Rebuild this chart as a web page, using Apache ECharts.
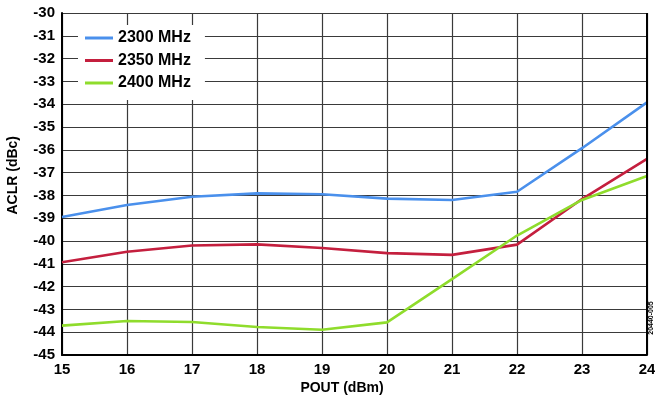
<!DOCTYPE html>
<html>
<head>
<meta charset="utf-8">
<script src="https://cdn.jsdelivr.net/npm/echarts@6/dist/echarts.min.js"></script>
<style>
  html, body { margin: 0; padding: 0; background: #fff; }
  #chart { width: 655px; height: 400px; }
</style>
</head>
<body>
<div id="chart"></div>
<script>
// Output power steps (dBm)
const pout = [15, 16, 17, 18, 19, 20, 21, 22, 23, 24];

// ACLR (dBc) per carrier frequency
const aclr2300 = [-38.95, -38.42, -38.06, -37.91, -37.95, -38.14, -38.2, -37.84, -35.93, -33.92];
const aclr2350 = [-40.93, -40.47, -40.2, -40.15, -40.31, -40.53, -40.61, -40.16, -38.16, -36.4];
const aclr2400 = [-43.71, -43.51, -43.55, -43.77, -43.89, -43.57, -41.67, -39.76, -38.2, -37.15];

const seriesNames = ['2300 MHz', '2350 MHz', '2400 MHz'];
const seriesColors = ['#4a90ec', '#c41f3e', '#8fdc2c'];
const seriesData = [aclr2300, aclr2350, aclr2400];

const FONT = '"Liberation Sans", Arial, sans-serif';

const chart = echarts.init(document.getElementById('chart'), null, { renderer: 'canvas' });

chart.setOption({
  animation: false,
  backgroundColor: '#fff',
  grid: { left: 62, right: 8, top: 13, bottom: 45, show: false, outerBoundsMode: 'none' },
  xAxis: {
    type: 'value',
    min: 15, max: 24, interval: 1,
    axisLine: { show: true, lineStyle: { color: '#000', width: 2 } },
    axisTick: { show: false },
    axisLabel: { color: '#000', fontFamily: FONT, fontWeight: 'bold', fontSize: 15, margin: 7 },
    splitLine: { show: true, lineStyle: { color: '#3a3a3a', width: 1.2 } }
  },
  yAxis: {
    type: 'value',
    min: -45, max: -30, interval: 1,
    axisLine: { show: true, lineStyle: { color: '#000', width: 2 } },
    axisTick: { show: false },
    axisLabel: { color: '#000', fontFamily: FONT, fontWeight: 'bold', fontSize: 15, margin: 7 },
    splitLine: { show: true, lineStyle: { color: '#3a3a3a', width: 1.2 } }
  },
  legend: {
    left: 78, top: 25,
    orient: 'vertical',
    backgroundColor: '#fff',
    padding: [5, 14, 9, 7],
    icon: 'rect',
    itemWidth: 28, itemHeight: 3, itemGap: 6.5,
    textStyle: { color: '#000', fontFamily: FONT, fontWeight: 'bold', fontSize: 16, lineHeight: 16 },
    data: seriesNames
  },
  series: seriesNames.map((name, i) => ({
    name,
    type: 'line',
    symbol: 'none',
    data: pout.map((x, j) => [x, seriesData[i][j]]),
    lineStyle: { color: seriesColors[i], width: 2.6 },
    itemStyle: { color: seriesColors[i] },
    z: 3
  })),
  graphic: [
    // right frame edge
    {
      type: 'line', z: 10,
      shape: { x1: 647, y1: 13, x2: 647, y2: 355 },
      style: { stroke: '#000', lineWidth: 2 }
    },
    {
      type: 'text', left: 6, top: 136, rotation: Math.PI / 2,
      style: { text: 'ACLR (dBc)', fill: '#000', font: 'bold 14px ' + FONT }
    },
    {
      type: 'text', x: 342, y: 388,
      style: { text: 'POUT (dBm)', fill: '#000', font: 'bold 14px ' + FONT, align: 'center', verticalAlign: 'middle' }
    },
    {
      type: 'text', x: 651, y: 318, rotation: Math.PI / 2,
      style: { text: '20440-005', fill: '#000', font: 'bold 7px ' + FONT, align: 'center', verticalAlign: 'middle' }
    }
  ]
});
</script>
</body>
</html>
